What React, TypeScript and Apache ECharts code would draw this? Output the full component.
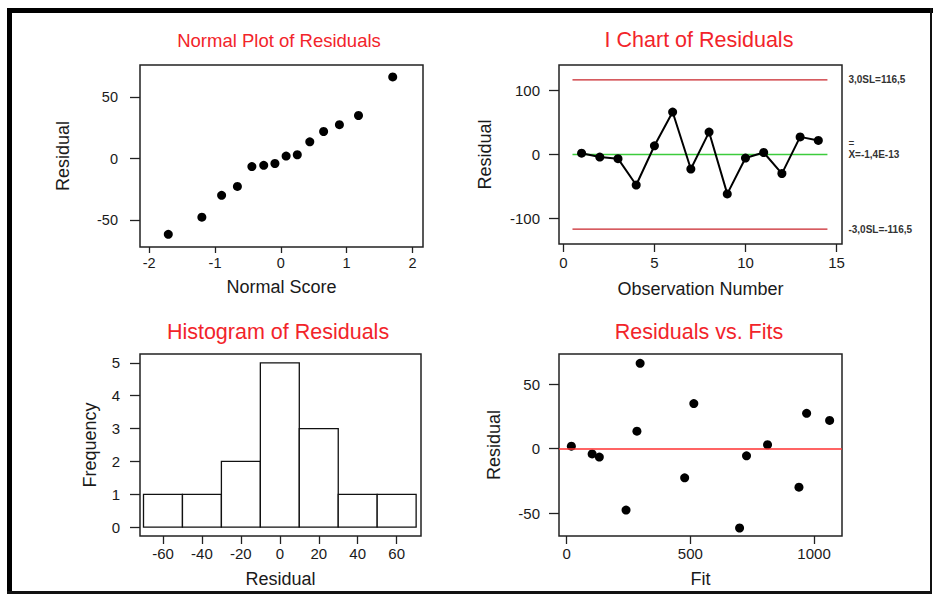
import React, { useEffect, useRef } from "react";
import * as echarts from "echarts";

// ---- data ----
const observations = [1, 2, 3, 4, 5, 6, 7, 8, 9, 10, 11, 12, 13, 14];
const residuals = [2.0, -4.0, -6.5, -47.6, 13.6, 66.3, -22.6, 35.0, -61.5, -5.5, 3.1, -29.8, 27.5, 22.0];
const fits = [19, 103, 132, 240, 284, 297, 477, 514, 699, 727, 812, 939, 970, 1063];
const normalScores = [-1.71, -1.2, -0.9, -0.66, -0.44, -0.26, -0.09, 0.08, 0.25, 0.44, 0.65, 0.89, 1.18, 1.7];
const binEdges = [-70, -50, -30, -10, 10, 30, 50, 70];
const frequencies = [1, 1, 2, 5, 3, 1, 1];
const upperLimit = 116.5;
const lowerLimit = -116.5;
const centerMean = -1.4e-13;
const limitSpan = [0.5, 14.5];

// tick labels
const normalXTicks = [-2, -1, 0, 1, 2];
const normalYTicks = [-50, 0, 50];
const iChartXTicks = [0, 5, 10, 15];
const iChartYTicks = [-100, 0, 100];
const histXTicks = [-60, -40, -20, 0, 20, 40, 60];
const histYTicks = [0, 1, 2, 3, 4, 5];
const fitXTicks = [0, 500, 1000];
const fitYTicks = [-50, 0, 50];

const titles = ["Normal Plot of Residuals", "I Chart of Residuals", "Histogram of Residuals", "Residuals vs. Fits"];

const FONT = "'Liberation Sans', Arial, Helvetica, sans-serif";
const TEXT = "#1a1a1a";
const TITLE_RED = "#f2242a";

function axis(
  dim: "x" | "y",
  gridIndex: number,
  min: number,
  max: number,
  ticks: number[],
  name: string,
  nameGap: number,
  margin: number,
  tickLen: number,
  fontSize = 15
) {
  return {
    type: "value",
    gridIndex,
    min,
    max,
    name,
    nameLocation: "middle",
    nameGap,
    nameTextStyle: { fontFamily: FONT, fontSize: 18, color: TEXT },
    splitLine: { show: false },
    axisLine: { show: false, onZero: false },
    axisTick: {
      show: true,
      length: tickLen,
      customValues: ticks,
      lineStyle: { color: "#222", width: 1.3 },
    },
    axisLabel: {
      customValues: ticks,
      margin,
      fontFamily: FONT,
      fontSize,
      color: TEXT,
      formatter: (v: number) => String(v),
    },
  };
}

export default function App() {
  const ref = useRef<HTMLDivElement>(null);

  useEffect(() => {
    if (!ref.current) return;
    const chart = echarts.init(ref.current, null, { renderer: "svg" });

    const sortedResiduals = residuals.slice().sort((a, b) => a - b);
    const normalData = normalScores.map((s, i) => [s, sortedResiduals[i]]);
    const iData = observations.map((o, i) => [o, residuals[i]]);
    const fitData = fits.map((f, i) => [f, residuals[i]]);
    const histData = frequencies.map((c, i) => [binEdges[i], binEdges[i + 1], c]);
    const fmt = (v: number) => v.toFixed(1).replace(".", ",");

    const gridStyle = { show: true, borderColor: "#222", borderWidth: 1.5, backgroundColor: "transparent" };
    const dot = { color: "#000", opacity: 1 };

    const option: any = {
      animation: false,
      backgroundColor: "#fff",
      textStyle: { fontFamily: FONT },
      graphic: [
        { type: "rect", shape: { x: 7, y: 8, width: 5, height: 586 }, style: { fill: "#000" } },
        { type: "rect", shape: { x: 7, y: 8, width: 926, height: 5 }, style: { fill: "#000" } },
        { type: "rect", shape: { x: 930, y: 8, width: 2, height: 586 }, style: { fill: "#111" } },
        { type: "rect", shape: { x: 7, y: 591, width: 925, height: 3 }, style: { fill: "#111" } },
        {
          type: "text", x: 279, y: 40,
          style: { text: titles[0], fill: TITLE_RED, fontSize: 18.5, fontFamily: FONT, align: "center", verticalAlign: "middle" },
        },
        {
          type: "text", x: 699, y: 40,
          style: { text: titles[1], fill: TITLE_RED, fontSize: 21.5, fontFamily: FONT, align: "center", verticalAlign: "middle" },
        },
        {
          type: "text", x: 278, y: 332,
          style: { text: titles[2], fill: TITLE_RED, fontSize: 21.5, fontFamily: FONT, align: "center", verticalAlign: "middle" },
        },
        {
          type: "text", x: 699, y: 332,
          style: { text: titles[3], fill: TITLE_RED, fontSize: 21.5, fontFamily: FONT, align: "center", verticalAlign: "middle" },
        },
      ],
      grid: [
        { left: 140, top: 65, width: 283, height: 182, ...gridStyle },
        { left: 559, top: 65, width: 283, height: 179, ...gridStyle },
        { left: 140, top: 354, width: 281, height: 182, ...gridStyle },
        { left: 559, top: 354, width: 283, height: 182, ...gridStyle },
      ],
      xAxis: [
        axis("x", 0, -2.14, 2.16, normalXTicks, "Normal Score", 31, 8, 6, 14.5),
        axis("x", 1, -0.24, 15.3, iChartXTicks, "Observation Number", 36, 11, 8),
        axis("x", 2, -71.8, 72.5, histXTicks, "Residual", 34, 10, 8),
        axis("x", 3, -31, 1113, fitXTicks, "Fit", 34, 10, 8),
      ],
      yAxis: [
        axis("y", 0, -71.8, 76.0, normalYTicks, "Residual", 68, 22, 10, 14.5),
        axis("y", 1, -139.7, 139.7, iChartYTicks, "Residual", 65, 19, 10),
        axis("y", 2, -0.27, 5.27, histYTicks, "Frequency", 41, 20, 10),
        axis("y", 3, -67.7, 73.5, fitYTicks, "Residual", 56, 19, 10),
      ],
      series: [
        {
          type: "scatter",
          xAxisIndex: 0,
          yAxisIndex: 0,
          data: normalData,
          symbol: "circle",
          symbolSize: 9,
          itemStyle: dot,
        },
        {
          type: "line",
          xAxisIndex: 1,
          yAxisIndex: 1,
          data: [[limitSpan[0], upperLimit], [limitSpan[1], upperLimit]],
          showSymbol: false,
          symbol: "none",
          lineStyle: { color: "#c9252b", width: 1.2 },
          endLabel: {
            show: true,
            distance: 21,
            formatter: () => `3,0SL=${fmt(upperLimit)}`,
            color: "#333",
            fontSize: 10,
            fontWeight: "bold",
            fontFamily: FONT,
          },
          z: 1,
        },
        {
          type: "line",
          xAxisIndex: 1,
          yAxisIndex: 1,
          data: [[limitSpan[0], lowerLimit], [limitSpan[1], lowerLimit]],
          showSymbol: false,
          symbol: "none",
          lineStyle: { color: "#c9252b", width: 1.2 },
          endLabel: {
            show: true,
            distance: 21,
            formatter: () => `-3,0SL=${fmt(lowerLimit)}`,
            color: "#333",
            fontSize: 10,
            fontWeight: "bold",
            fontFamily: FONT,
          },
          z: 1,
        },
        {
          type: "line",
          xAxisIndex: 1,
          yAxisIndex: 1,
          data: [[limitSpan[0], centerMean], [limitSpan[1], centerMean]],
          showSymbol: false,
          symbol: "none",
          lineStyle: { color: "#3ccc3c", width: 1.4 },
          endLabel: {
            show: true,
            distance: 21,
            offset: [0, -5],
            formatter: () => `{o|=}\n{t|X=-1,4E-13}`,
            rich: {
              o: { fontSize: 10, lineHeight: 10, color: "#333", fontFamily: FONT },
              t: { fontSize: 10, lineHeight: 12, color: "#333", fontWeight: "bold", fontFamily: FONT },
            },
          },
          z: 1,
        },
        {
          type: "line",
          xAxisIndex: 1,
          yAxisIndex: 1,
          data: iData,
          symbol: "circle",
          symbolSize: 9,
          itemStyle: dot,
          lineStyle: { color: "#000", width: 2 },
          z: 3,
        },
        {
          type: "custom",
          xAxisIndex: 2,
          yAxisIndex: 2,
          data: histData,
          renderItem: (params: any, api: any) => {
            const p0 = api.coord([api.value(0), api.value(2)]);
            const p1 = api.coord([api.value(1), 0]);
            return {
              type: "rect",
              shape: { x: p0[0], y: p0[1], width: p1[0] - p0[0], height: p1[1] - p0[1] },
              style: { fill: "#fff", stroke: "#111", lineWidth: 1.3 },
            };
          },
        },
        {
          type: "scatter",
          xAxisIndex: 3,
          yAxisIndex: 3,
          data: fitData,
          symbol: "circle",
          symbolSize: 9,
          itemStyle: dot,
          markLine: {
            silent: true,
            symbol: "none",
            label: { show: false },
            lineStyle: { color: "#ff3030", type: "solid", width: 1.5 },
            data: [{ yAxis: 0 }],
          },
        },
      ],
    };

    chart.setOption(option);
    return () => chart.dispose();
  }, []);

  return (
    <div
      ref={ref}
      style={{ position: "fixed", left: 0, top: 0, width: 933, height: 594, background: "#fff" }}
    />
  );
}
